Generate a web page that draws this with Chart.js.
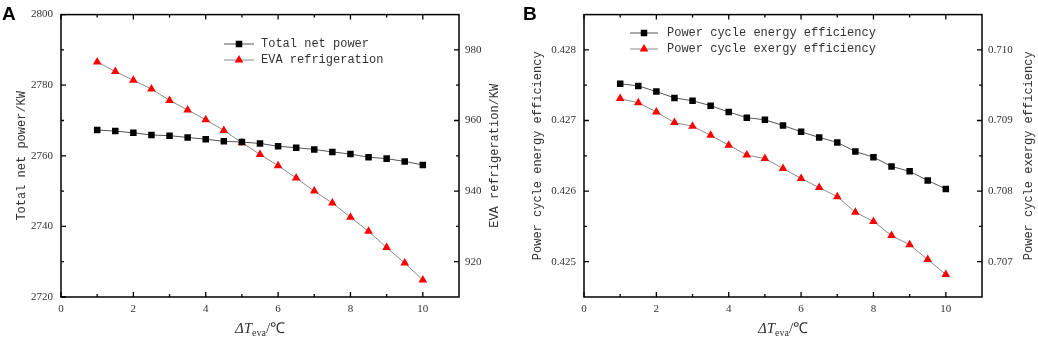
<!DOCTYPE html>
<html>
<head>
<meta charset="utf-8">
<script src="https://cdn.jsdelivr.net/npm/chart.js@4.4.1/dist/chart.umd.min.js"></script>
<style>
  html, body { margin: 0; padding: 0; background: #fff; }
  #wrap { position: relative; width: 1038px; height: 339px; }
  .panel { position: absolute; top: 0; width: 519px; height: 339px; }
  #pa { left: 0; }
  #pb { left: 519px; }
</style>
</head>
<body>
<div id="wrap">
  <div class="panel" id="pa"><canvas id="chartA" width="519" height="339"></canvas></div>
  <div class="panel" id="pb"><canvas id="chartB" width="519" height="339"></canvas></div>
</div>
<script>
// ---- data ----
const DT_EVA = [1, 1.5, 2, 2.5, 3, 3.5, 4, 4.5, 5, 5.5, 6, 6.5, 7, 7.5, 8, 8.5, 9, 9.5, 10];

// panel A
const NET_POWER = [2767.3, 2767.0, 2766.5, 2765.9, 2765.7, 2765.2, 2764.7, 2764.1, 2763.9, 2763.5,
                   2762.7, 2762.3, 2761.8, 2761.1, 2760.5, 2759.6, 2759.2, 2758.4, 2757.4];
const EVA_REFRIG = [976.6, 973.9, 971.4, 968.9, 965.7, 963.0, 960.2, 957.2, 953.7, 950.4,
                    947.2, 943.7, 940.0, 936.6, 932.6, 928.6, 924.0, 919.6, 914.8];

// panel B
const ENERGY_EFF = [0.42752, 0.42749, 0.42741, 0.42732, 0.42728, 0.42721, 0.42712, 0.42704, 0.42701, 0.42693,
                    0.42684, 0.42676, 0.42669, 0.42656, 0.42648, 0.42635, 0.42628, 0.42615, 0.42603];
const EXERGY_EFF = [0.70931, 0.70925, 0.70912, 0.70897, 0.70892, 0.70879, 0.70865, 0.70851, 0.70846, 0.70832,
                    0.70818, 0.70805, 0.70792, 0.70770, 0.70757, 0.70737, 0.70724, 0.70703, 0.70682];

// axes
const X_TICKS = [0, 2, 4, 6, 8, 10];
const X_MINOR = [1, 3, 5, 7, 9];
const A_LEFT_TICKS = [2720, 2740, 2760, 2780, 2800];
const A_LEFT_MINOR = [2730, 2750, 2770, 2790];
const A_RIGHT_TICKS = [920, 940, 960, 980];
const A_RIGHT_MINOR = [930, 950, 970];
const B_LEFT_TICKS = [0.425, 0.426, 0.427, 0.428];
const B_LEFT_MINOR = [0.4255, 0.4265, 0.4275];
const B_RIGHT_TICKS = [0.707, 0.708, 0.709, 0.710];
const B_RIGHT_MINOR = [0.7075, 0.7085, 0.7095];

const TICK_FONT = { family: '"Liberation Serif", serif', size: 11 };
const MONO = '"Liberation Mono", monospace';

function pts(ys) {
  return DT_EVA.map((x, i) => ({ x, y: ys[i] }));
}

function squareSet(label, ys) {
  return {
    label, data: pts(ys), yAxisID: 'y',
    borderColor: '#555', borderWidth: 1,
    pointStyle: 'rect', pointRadius: 4.6, pointBackgroundColor: '#000',
    pointBorderColor: '#000', pointBorderWidth: 0,
  };
}
function triangleSet(label, ys) {
  return {
    label, data: pts(ys), yAxisID: 'y1',
    borderColor: '#8a8a8a', borderWidth: 1,
    pointStyle: 'triangle', pointRadius: 5, pointBackgroundColor: '#ff0000',
    pointBorderColor: '#ff0000', pointBorderWidth: 0,
  };
}

// frame, inward ticks, titles, legend
const decor = {
  id: 'decor',
  afterDraw(chart) {
    const o = chart.options.plugins.decor;
    const { ctx, chartArea: a, scales } = chart;
    const { x, y, y1 } = scales;
    ctx.save();
    ctx.strokeStyle = '#000';
    ctx.lineWidth = 1.5;
    ctx.strokeRect(a.left, a.top, a.right - a.left, a.bottom - a.top);

    ctx.lineWidth = 1.3;
    ctx.beginPath();
    const tickX = (vals, len) => vals.forEach((v) => {
      const px = x.getPixelForValue(v);
      ctx.moveTo(px, a.bottom); ctx.lineTo(px, a.bottom - len);
      ctx.moveTo(px, a.top); ctx.lineTo(px, a.top + len);
    });
    tickX(X_TICKS, 5); tickX(X_MINOR, 3);
    const tickY = (sc, vals, len, right) => vals.forEach((v) => {
      const py = sc.getPixelForValue(v);
      if (right) { ctx.moveTo(a.right, py); ctx.lineTo(a.right - len, py); }
      else { ctx.moveTo(a.left, py); ctx.lineTo(a.left + len, py); }
    });
    tickY(y, o.leftTicks, 5, false); tickY(y, o.leftMinor, 3, false);
    tickY(y1, o.rightTicks, 5, true); tickY(y1, o.rightMinor, 3, true);
    ctx.stroke();

    // panel letter
    ctx.fillStyle = '#000';
    ctx.font = 'bold 19px "Liberation Sans", Arial, sans-serif';
    ctx.textAlign = 'left'; ctx.textBaseline = 'alphabetic';
    ctx.fillText(o.letter, o.letterX, 20);

    // y titles
    ctx.fillStyle = '#333';
    ctx.font = '12px ' + MONO;
    ctx.textAlign = 'center'; ctx.textBaseline = 'middle';
    const midY = (a.top + a.bottom) / 2;
    [[o.leftTitle, o.leftTitleX], [o.rightTitle, o.rightTitleX]].forEach(([t, tx]) => {
      ctx.save();
      ctx.translate(tx, midY); ctx.rotate(-Math.PI / 2);
      ctx.fillText(t, 0, 0);
      ctx.restore();
    });

    // x title: ΔT_eva/℃
    const serif = '"Liberation Serif", serif';
    const parts = [
      { t: 'ΔT', f: 'italic 15px ' + serif, dy: 0 },
      { t: 'eva', f: '10px ' + serif, dy: 3 },
      { t: '/℃', f: '15px ' + serif, dy: 0 },
    ];
    let w = 0;
    parts.forEach((p) => { ctx.font = p.f; p.w = ctx.measureText(p.t).width; w += p.w; });
    let cx = (a.left + a.right) / 2 - w / 2;
    ctx.textAlign = 'left'; ctx.textBaseline = 'alphabetic';
    parts.forEach((p) => { ctx.font = p.f; ctx.fillText(p.t, cx, 333 + p.dy); cx += p.w; });

    // legend
    const L = o.legend;
    chart.data.datasets.forEach((ds, i) => {
      const ly = L.y + i * 16;
      ctx.strokeStyle = ds.borderColor; ctx.lineWidth = 1;
      ctx.beginPath(); ctx.moveTo(L.x0, ly); ctx.lineTo(L.x1, ly); ctx.stroke();
      ctx.fillStyle = ds.pointBackgroundColor; ctx.strokeStyle = ds.pointBorderColor;
      Chart.helpers.drawPoint(ctx, { pointStyle: ds.pointStyle, radius: ds.pointRadius, borderWidth: 0, rotation: 0 },
        (L.x0 + L.x1) / 2, ly);
      ctx.fillStyle = '#333';
      ctx.font = '12px ' + MONO;
      ctx.textBaseline = 'middle';
      ctx.fillText(ds.label, L.tx, ly);
    });
    ctx.restore();
  },
};

function makeChart(id, cfg) {
  const fixTicks = (vals) => (sc) => { sc.ticks = vals.map((v) => ({ value: v })); };
  return new Chart(document.getElementById(id), {
    type: 'line',
    data: { datasets: cfg.datasets },
    plugins: [decor],
    options: {
      responsive: false,
      animation: false,
      devicePixelRatio: 1,
      layout: { padding: { top: 5, left: 0, right: 0, bottom: 0 } },
      plugins: { legend: { display: false }, tooltip: { enabled: false }, decor: cfg.decor },
      scales: {
        x: {
          type: 'linear', min: 0, max: 11,
          grid: { display: false, drawTicks: false }, border: { display: false },
          afterBuildTicks: fixTicks(X_TICKS),
          afterFit: (sc) => { sc.height = 42; },
          ticks: { font: TICK_FONT, color: '#333', padding: 6, maxRotation: 0, callback: (v) => String(v) },
        },
        y: {
          position: 'left', min: cfg.left.min, max: cfg.left.max,
          grid: { display: false, drawTicks: false }, border: { display: false },
          afterBuildTicks: fixTicks(cfg.left.ticks),
          afterFit: (sc) => { sc.width = cfg.left.width; },
          ticks: { font: TICK_FONT, color: '#333', padding: 8, callback: cfg.left.fmt },
        },
        y1: {
          position: 'right', min: cfg.right.min, max: cfg.right.max,
          grid: { display: false, drawTicks: false }, border: { display: false },
          afterBuildTicks: fixTicks(cfg.right.ticks),
          afterFit: (sc) => { sc.width = cfg.right.width; },
          ticks: { font: TICK_FONT, color: '#333', padding: 6, callback: cfg.right.fmt },
        },
      },
    },
  });
}

makeChart('chartA', {
  datasets: [squareSet('Total net power', NET_POWER), triangleSet('EVA refrigeration', EVA_REFRIG)],
  left: { min: 2720, max: 2800, ticks: A_LEFT_TICKS, width: 61, fmt: (v) => String(v) },
  right: { min: 910, max: 990, ticks: A_RIGHT_TICKS, width: 60, fmt: (v) => String(v) },
  decor: {
    letter: 'A', letterX: 2,
    leftTicks: A_LEFT_TICKS, leftMinor: A_LEFT_MINOR, rightTicks: A_RIGHT_TICKS, rightMinor: A_RIGHT_MINOR,
    leftTitle: 'Total net power/KW', leftTitleX: 22,
    rightTitle: 'EVA refrigeration/KW', rightTitleX: 495,
    legend: { x0: 224, x1: 254, y: 44, tx: 261 },
  },
});

makeChart('chartB', {
  datasets: [squareSet('Power cycle energy efficiency', ENERGY_EFF), triangleSet('Power cycle exergy efficiency', EXERGY_EFF)],
  left: { min: 0.4245, max: 0.4285, ticks: B_LEFT_TICKS, width: 65, fmt: (v) => v.toFixed(3) },
  right: { min: 0.7065, max: 0.7105, ticks: B_RIGHT_TICKS, width: 56, fmt: (v) => v.toFixed(3) },
  decor: {
    letter: 'B', letterX: 4,
    leftTicks: B_LEFT_TICKS, leftMinor: B_LEFT_MINOR, rightTicks: B_RIGHT_TICKS, rightMinor: B_RIGHT_MINOR,
    leftTitle: 'Power cycle energy efficiency', leftTitleX: 19,
    rightTitle: 'Power cycle exergy efficiency', rightTitleX: 510,
    legend: { x0: 111, x1: 139, y: 33, tx: 148 },
  },
});
</script>
</body>
</html>
